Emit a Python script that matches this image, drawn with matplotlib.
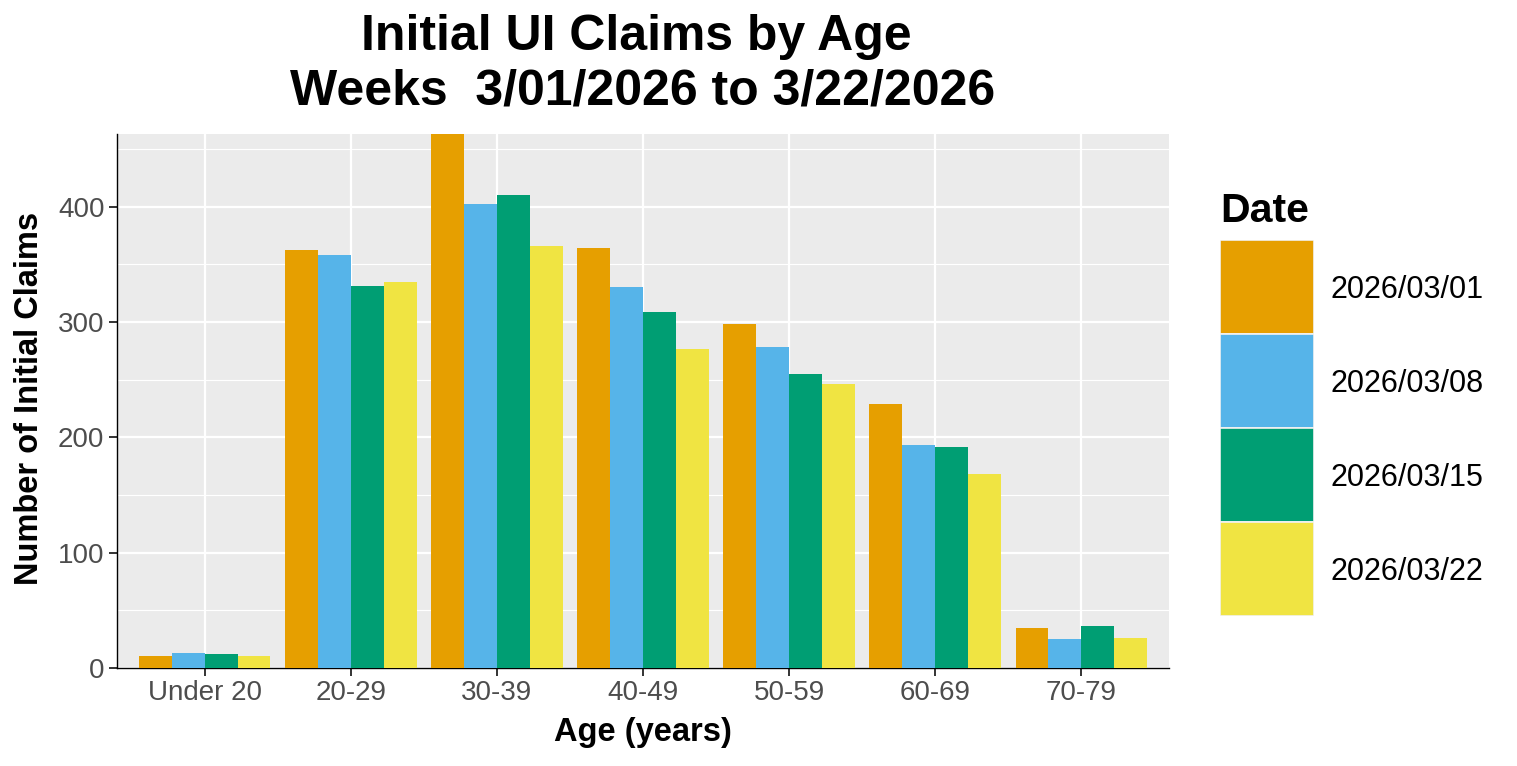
import numpy as np
import matplotlib
matplotlib.use("Agg")
import matplotlib.pyplot as plt
from matplotlib.patches import Rectangle
from matplotlib.ticker import MultipleLocator

plt.rcParams['font.family'] = ['Liberation Sans', 'DejaVu Sans']

# data
ages = ["Under 20", "20-29", "30-39", "40-49", "50-59", "60-69", "70-79"]
dates = ["2026/03/01", "2026/03/08", "2026/03/15", "2026/03/22"]
w0301 = [10, 362, 463, 364, 298, 229, 35]
w0308 = [13, 358, 402, 330, 278, 193, 25]
w0315 = [12, 331, 410, 309, 255, 192, 36]
w0322 = [10, 335, 366, 277, 246, 168, 26]
colors = ["#E69F00", "#56B4E9", "#009E73", "#F0E442"]

W, H = 1517, 766
fig = plt.figure(figsize=(W / 100, H / 100), dpi=100)
ax = fig.add_axes([117 / W, (H - 668) / H, (1169 - 117) / W, (668 - 134) / H])
ax.set_facecolor("#EBEBEB")

x = np.arange(1, len(ages) + 1)
bw = 0.9 / 4
series = [w0301, w0308, w0315, w0322]
for i, vals in enumerate(series):
    ax.bar(x + (i - 1.5) * bw, vals, width=bw, color=colors[i], zorder=3)

ax.set_xlim(0.4, len(ages) + 0.6)
ax.set_ylim(0, max(max(s) for s in series))
ax.set_xticks(x)
ax.set_xticklabels(ages)
ax.yaxis.set_major_locator(MultipleLocator(100))
ax.yaxis.set_minor_locator(MultipleLocator(50))
ax.grid(which="major", color="white", lw=1.6, zorder=1)
ax.grid(which="minor", axis="y", color="white", lw=0.8, zorder=1)
ax.set_axisbelow(True)
ax.tick_params(which="major", length=5.5, width=1.4, color="#333333",
               labelcolor="#4D4D4D", labelsize=20, pad=3.5)
ax.tick_params(which="minor", length=0)
for s in ["top", "right"]:
    ax.spines[s].set_visible(False)
for s in ["left", "bottom"]:
    ax.spines[s].set_color("black")
    ax.spines[s].set_linewidth(1.0)

# axis titles
fig.text(643 / W, 1 - 733 / H, "Age (years)", ha="center", va="center",
         fontsize=23.5, fontweight="bold")
fig.text(30 / W, 1 - 398 / H, "Number of Initial Claims", ha="center", va="center",
         rotation=90, fontsize=23.5, fontweight="bold")

fig.text(643 / W, 1 - 14 / H, "Initial UI Claims by Age \nWeeks  3/01/2026 to 3/22/2026",
         ha="center", va="top", fontsize=36, fontweight="bold", linespacing=1.25)

# legend
lax = fig.add_axes([1220 / W, (H - 616) / H, 94 / W, 376 / H])
lax.set_xlim(0, 1)
lax.set_ylim(0, 4)
lax.axis("off")
for i, d in enumerate(dates):
    yb = 3 - i
    lax.add_patch(Rectangle((0, yb), 1, 1, facecolor=colors[i], edgecolor="#F2F2F2", lw=1.2))
    lax.text(111 / 94, yb + 0.5 - 3 / 94, d, ha="left", va="center", fontsize=22, clip_on=False)
lax.text(0, 4 + 18 / 94, "Date", ha="left", va="baseline", fontsize=29.5,
         fontweight="bold", clip_on=False)

fig.savefig("out.png", dpi=100)
